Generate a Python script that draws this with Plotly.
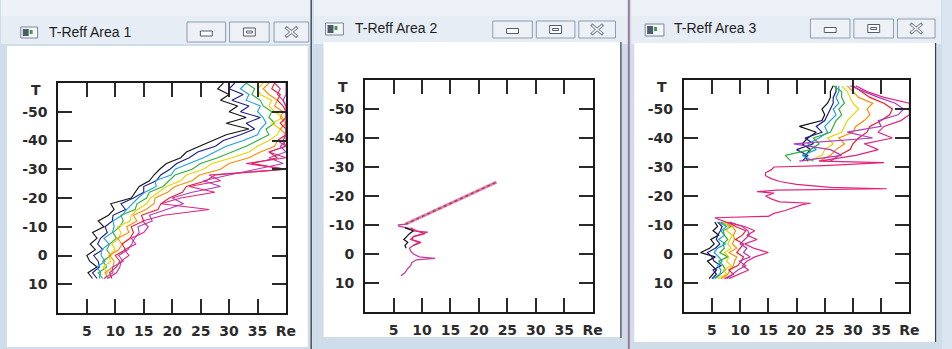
import plotly.graph_objects as go

W, H = 952, 349

# ---------------- data ----------------
window_titles = ["T-Reff Area 1", "T-Reff Area 2", "T-Reff Area 3"]
x_tick_vals = [5, 10, 15, 20, 25, 30, 35, 40]
x_tick_text = ["5", "10", "15", "20", "25", "30", "35", "Re"]
y_tick_vals = [-50, -40, -30, -20, -10, 0, 10]
y_tick_text = ["-50", "-40", "-30", "-20", "-10", "0", "10"]
y_axis_label = "T"
y_axis_label_pos = -57.5
x_grid_vals = [15, 25]
y_grid_vals = [-40, -10]

series_names = ["black", "navy", "sky", "green", "yellow", "orange", "red", "purple", "magenta"]
series_colors = ["#111111", "#1c1c8c", "#1f9fe0", "#2fae3a", "#e8d400",
                 "#ff8c00", "#ec1c24", "#a83cc0", "#e0247e"]

# ---- Area 1 : Re at each T level ----
a1_T = [8, 6, 4, 2, 0, -2, -4, -6, -8, -10, -12, -14, -16, -18, -20, -22, -24, -26,
        -28, -30, -32, -34, -36, -38, -40, -42, -44, -46, -48, -50, -52, -54, -56, -58, -60]
a1_black = [6.0, 5.2, 6.8, 5.5, 5.0, 6.5, 5.6, 6.8, 6.0, 8.0, 7.0, 8.8, 9.8, 9.2, 12.8, 13.5, 14.2, 16.0,
            16.8, 17.8, 19.0, 21.5, 22.5, 24.8, 27.0, 29.5, 33.5, 29.5, 33.0, 30.0, 31.5, 28.5, 30.0, 28.0, 29.0]
a1_navy = [6.8, 6.0, 7.2, 7.0, 6.2, 7.8, 6.9, 7.4, 8.6, 8.2, 9.5, 9.6, 11.8, 11.0, 13.2, 15.0, 15.0, 17.2,
           18.0, 19.6, 20.8, 23.0, 24.5, 27.6, 29.0, 32.0, 34.5, 33.0, 35.5, 32.0, 33.5, 30.5, 32.5, 30.0, 31.0]
a1_sky = [7.2, 7.4, 6.8, 8.2, 7.5, 7.6, 8.9, 8.0, 9.5, 9.8, 9.6, 11.2, 12.0, 13.0, 14.0, 15.2, 17.2, 17.0,
          19.8, 20.5, 23.0, 25.5, 27.5, 29.5, 32.5, 35.0, 35.5, 36.5, 36.0, 35.0, 35.5, 33.0, 33.5, 32.0, 33.0]
a1_green = [7.8, 7.0, 8.5, 7.8, 9.2, 8.5, 9.0, 10.2, 9.6, 10.8, 11.4, 11.0, 13.5, 13.8, 15.5, 16.0, 18.4, 19.5,
            20.5, 23.5, 25.0, 28.0, 30.5, 33.0, 35.0, 37.0, 36.5, 38.0, 37.0, 37.5, 36.0, 35.5, 34.0, 34.5, 33.0]
a1_yellow = [8.2, 8.6, 7.9, 9.2, 8.8, 10.0, 9.4, 10.6, 11.0, 10.4, 12.6, 12.8, 13.9, 15.5, 16.2, 17.5, 19.0, 21.5,
             22.5, 25.5, 27.0, 30.5, 33.5, 35.0, 37.0, 38.5, 39.0, 37.5, 39.5, 38.0, 37.0, 37.5, 35.5, 35.0, 36.0]
a1_orange = [8.8, 8.2, 9.6, 9.8, 9.0, 10.6, 11.2, 10.4, 12.4, 12.0, 13.8, 13.2, 15.4, 16.8, 17.0, 19.2, 20.5, 23.5,
             24.8, 28.5, 30.0, 33.5, 35.5, 38.0, 38.5, 40.0, 39.0, 40.0, 39.0, 39.5, 38.0, 38.5, 37.0, 36.0, 37.0]
a1_red = [9.4, 9.0, 10.2, 10.8, 10.0, 11.8, 11.2, 12.6, 13.2, 12.8, 15.0, 14.6, 17.5, 18.0, 19.5, 21.8, 22.5, 26.0,
          27.5, 40.0, 34.0, 38.5, 37.0, 40.0, 39.5, 40.0, 40.0, 39.0, 40.0, 40.0, 39.5, 38.5, 39.0, 37.5, 38.0]
a1_purple = [8.0, 9.6, 9.5, 11.4, 10.6, 12.2, 12.9, 13.4, 14.2, 14.0, 16.5, 16.0, 19.0, 22.0, 20.0, 23.5, 28.5, 25.5,
             30.0, 34.5, 39.5, 37.0, 40.0, 39.0, 40.0, 40.0, 40.0, 40.0, 40.0, 40.0, 40.0, 39.5, 40.0, 40.0, 40.0]
a1_magenta = [8.6, 10.2, 10.8, 11.0, 12.4, 11.6, 13.6, 12.8, 15.0, 15.8, 14.8, 18.5, 26.5, 18.0, 21.5, 27.5, 23.0, 28.5,
              26.5, 40.0, 33.0, 40.0, 37.0, 40.0, 38.5, 40.0, 40.0, 40.0, 40.0, 40.0, 40.0, 39.5, 38.5, 39.0, 38.0]

# ---- Area 2 ----
a2_magenta_T = [7.5, 6.5, 5, 4, 3, 2, 1.5, 1, 0, -1, -2, -3, -4, -5, -6, -7, -7.5, -8, -9, -9.5, -10, -10.3]
a2_magenta_Re = [6.3, 7.0, 7.5, 8.0, 8.2, 9.0, 12.3, 9.5, 8.5, 8.0, 7.8, 8.5, 9.5, 8.0, 8.5, 10.5, 11.0, 8.5,
                 7.5, 6.0, 5.8, 7.2]
a2_black_T = [-2, -3, -4, -5, -6, -7, -8, -9]
a2_black_Re = [7.2, 7.0, 7.5, 6.8, 7.3, 7.8, 8.5, 7.0]
a2_red_T = [-3, -4, -5, -6, -7, -8, -9]
a2_red_Re = [8.5, 9.8, 8.2, 8.5, 10.5, 9.0, 8.0]
a2_diag_T = [-10.3, -24.8]
a2_diag_Re = [7.1, 23.1]

# ---- Area 3 ----
a3_T_low = [8.5, 7, 5.5, 4, 2.5, 1, -0.5, -2, -3.5, -5, -6.5, -8, -9.5, -11]
a3_T_mid = [-12.5, -13, -14, -15, -16, -17, -17.5, -18, -19, -20, -21, -21.5, -22, -22.5, -23, -24,
            -25, -26, -27, -28, -29, -30, -30.5, -31.5]
a3_T_high = [-32, -34, -36, -38, -40, -42, -44, -46, -48, -50, -52, -54, -56, -58]

a3_low = {
    "black":   [4.5, 5.2, 5.8, 5.0, 4.2, 5.6, 3.0, 4.6, 5.4, 4.8, 6.2, 5.2, 6.0, 5.5],
    "navy":    [5.0, 5.8, 5.2, 6.6, 5.4, 5.0, 4.2, 5.6, 6.4, 5.8, 6.0, 6.5, 6.8, 6.0],
    "sky":     [5.2, 6.4, 6.6, 6.0, 6.8, 6.2, 5.4, 6.0, 7.4, 6.2, 7.2, 6.6, 7.6, 6.2],
    "green":   [5.6, 6.6, 7.4, 7.0, 6.2, 7.8, 6.4, 7.2, 7.0, 7.8, 7.2, 7.0, 8.4, 6.6],
    "yellow":  [6.0, 7.6, 7.0, 8.4, 7.6, 8.0, 7.2, 8.4, 7.8, 8.2, 8.6, 7.6, 8.0, 7.0],
    "orange":  [6.6, 7.8, 8.2, 8.8, 9.0, 9.4, 8.0, 9.4, 8.6, 9.0, 8.8, 9.2, 8.6, 7.4],
    "red":     [7.2, 8.8, 8.0, 9.6, 10.2, 10.6, 9.4, 10.0, 10.6, 9.2, 10.4, 11.0, 9.2, 7.8],
    "purple":  [7.6, 8.6, 9.6, 11.0, 9.8, 11.8, 10.6, 11.2, 10.0, 10.8, 11.6, 11.4, 10.4, 8.2],
    "magenta": [8.0, 9.8, 11.5, 10.4, 11.2, 12.6, 15.0, 12.4, 10.8, 13.0, 11.2, 12.6, 10.8, 7.5],
}
a3_mid_magenta = [5.5, 15.0, 16.0, 18.0, 19.5, 21.0, 22.5, 17.0, 15.5, 14.5, 16.0, 13.0, 16.5, 36.0, 26.0, 20.0,
                  17.0, 15.5, 14.5, 14.5, 15.5, 16.0, 25.0, 35.5]
a3_high = {
    "black":   [22.0, 21.5, 22.5, 21.0, 22.0, 23.5, 20.5, 24.5, 25.0, 24.5, 25.5, 26.0, 26.0, 26.5],
    "navy":    [21.0, 22.0, 20.0, 23.0, 21.5, 24.5, 23.5, 25.0, 25.5, 26.0, 26.5, 26.5, 27.0, 27.0],
    "sky":     [23.0, 21.0, 23.5, 22.0, 24.0, 25.5, 25.0, 26.0, 27.0, 26.5, 27.5, 27.0, 27.5, 27.5],
    "green":   [19.0, 18.0, 22.5, 24.0, 23.0, 26.0, 26.5, 27.0, 28.0, 27.5, 28.5, 28.0, 28.0, 26.5],
    "yellow":  [22.0, 24.5, 25.0, 26.5, 25.5, 28.0, 28.5, 29.0, 30.0, 31.0, 30.0, 29.5, 29.0, 28.0],
    "orange":  [24.0, 26.0, 27.0, 28.5, 27.5, 30.0, 30.5, 32.0, 33.0, 32.5, 33.5, 31.0, 30.0, 29.0],
    "red":     [26.0, 27.5, 29.5, 30.0, 31.0, 32.5, 33.0, 35.0, 36.5, 37.0, 35.5, 33.0, 31.5, 30.0],
    "purple":  [20.5, 28.0, 26.0, 19.5, 33.5, 29.0, 35.0, 34.5, 38.0, 39.0, 37.5, 34.5, 32.0, 29.5],
    "magenta": [24.0, 30.5, 34.5, 32.0, 37.0, 34.5, 35.5, 38.5, 40.0, 40.0, 40.0, 35.5, 32.5, 30.5],
}

# ---------------- figure ----------------
fig = go.Figure()
FONT_TICK = dict(family="DejaVu Sans", size=14, color="#2b2b2b", weight="bold")

panels_px = [(59, 289, 83, 313), (369, 599, 80, 312), (691, 919, 80, 312)]
color_of = dict(zip(series_names, series_colors))

def ax_names(i):
    return ("x" if i == 1 else f"x{i}"), ("y" if i == 1 else f"y{i}")

# Area 1 traces
a1_series = {"black": a1_black, "navy": a1_navy, "sky": a1_sky, "green": a1_green,
             "yellow": a1_yellow, "orange": a1_orange, "red": a1_red,
             "purple": a1_purple, "magenta": a1_magenta}
for name in series_names:
    fig.add_trace(go.Scatter(x=a1_series[name], y=a1_T, mode="lines", xaxis="x", yaxis="y",
                             line=dict(color=color_of[name], width=1.1),
                             showlegend=False, hoverinfo="skip"))

# Area 2 traces
fig.add_trace(go.Scatter(x=a2_diag_Re, y=a2_diag_T, mode="lines", xaxis="x2", yaxis="y2",
                         line=dict(color="#e87ab8", width=3), showlegend=False, hoverinfo="skip"))
fig.add_trace(go.Scatter(x=a2_diag_Re, y=a2_diag_T, mode="lines", xaxis="x2", yaxis="y2",
                         line=dict(color="#9a4a3a", width=1.5, dash="dot"), showlegend=False, hoverinfo="skip"))
fig.add_trace(go.Scatter(x=a2_magenta_Re, y=a2_magenta_T, mode="lines", xaxis="x2", yaxis="y2",
                         line=dict(color="#c2409a", width=1.3), showlegend=False, hoverinfo="skip"))
fig.add_trace(go.Scatter(x=a2_black_Re, y=a2_black_T, mode="lines", xaxis="x2", yaxis="y2",
                         line=dict(color="#111111", width=1.2), showlegend=False, hoverinfo="skip"))
fig.add_trace(go.Scatter(x=a2_red_Re, y=a2_red_T, mode="lines", xaxis="x2", yaxis="y2",
                         line=dict(color="#e8206a", width=1.3), showlegend=False, hoverinfo="skip"))

# Area 3 traces
for name in series_names:
    if name == "magenta":
        xs = a3_low[name] + a3_mid_magenta + a3_high[name]
        ys = a3_T_low + a3_T_mid + a3_T_high
    else:
        xs = a3_low[name] + [None] + a3_high[name]
        ys = a3_T_low + [None] + a3_T_high
    fig.add_trace(go.Scatter(x=xs, y=ys, mode="lines", xaxis="x3", yaxis="y3",
                             line=dict(color=color_of[name], width=1.2),
                             connectgaps=False, showlegend=False, hoverinfo="skip"))

# axes
layout_axes = {}
annotations = []
shapes = []
for i, (x0, x1, y0, y1) in enumerate(panels_px, start=1):
    xn, yn = ax_names(i)
    common = dict(ticks="inside", ticklen=14, tickwidth=2, tickcolor="#2a2a2a",
                  showline=True, linecolor="#1a1a1a", linewidth=2, mirror="ticks",
                  showgrid=False, zeroline=False, tickfont=FONT_TICK, fixedrange=True,
                  tickmode="array", tickangle=0)
    layout_axes["xaxis" if i == 1 else f"xaxis{i}"] = dict(
        common, domain=[x0 / W, x1 / W], range=[0, 40], tickvals=x_tick_vals,
        ticktext=x_tick_text, anchor=yn, ticklabelstandoff=4)
    layout_axes["yaxis" if i == 1 else f"yaxis{i}"] = dict(
        common, domain=[1 - y1 / H, 1 - y0 / H], range=[20, -60], tickvals=y_tick_vals,
        ticktext=y_tick_text, anchor=xn, ticklabelstandoff=6)
    annotations.append(dict(text=y_axis_label, xref=f"{xn} domain", yref=yn, x=0, y=y_axis_label_pos,
                            xanchor="right", yanchor="middle", xshift=-15, showarrow=False,
                            font=FONT_TICK))
    for gv in x_grid_vals:
        shapes.append(dict(type="line", xref=xn, yref=f"{yn} domain", x0=gv, x1=gv, y0=0, y1=1,
                           line=dict(color="#6e6e6e", width=1, dash="4px,4px"), layer="below"))
    for gv in y_grid_vals:
        shapes.append(dict(type="line", xref=f"{xn} domain", yref=yn, x0=0, x1=1, y0=gv, y1=gv,
                           line=dict(color="#6e6e6e", width=1, dash="4px,4px"), layer="below"))

# ---------------- window chrome (pixel helpers) ----------------
def px(x):
    return x / W

def py(y):
    return 1 - y / H

def rect(x0, y0, x1, y1, fill, line=None, lw=0, layer="above"):
    shapes.append(dict(type="rect", xref="paper", yref="paper", x0=px(x0), x1=px(x1),
                       y0=py(y1), y1=py(y0), fillcolor=fill,
                       line=dict(color=line if line else fill, width=lw), layer=layer))

def seg(x0, y0, x1, y1, color, lw, layer="above"):
    shapes.append(dict(type="line", xref="paper", yref="paper", x0=px(x0), x1=px(x1),
                       y0=py(y0), y1=py(y1), line=dict(color=color, width=lw), layer=layer))

windows = [
    dict(fx=(0, 315), content=(7, 46, 311, 347), title_x=47, title_y=32, icon=(21, 27, 38, 38),
         btns=[(189, 228), (232, 272), (277, 312)], by=(22, 42)),
    dict(fx=(316, 636), content=(327, 42, 627, 337), title_x=357, title_y=28, icon=(329, 23, 347, 35),
         btns=[(498, 538), (542, 581), (585, 622)], by=(21, 38)),
    dict(fx=(637, 952), content=(641, 43, 945, 342), title_x=679, title_y=28, icon=(652, 24, 671, 36),
         btns=[(819, 859), (863, 903), (907, 945)], by=(19, 38)),
]
for k, wd in enumerate(windows):
    fx0, fx1 = wd["fx"]
    rect(fx0, 0, fx1, H, "#cfdcea", layer="below")
    rect(fx0 + 1, 0, fx1 - 1, 16, "#edf2f8", layer="below")
    rect(fx0 + 1, 16, fx1 - 1, 44, "#e6edf5", layer="below")
    cx0, cy0, cx1, cy1 = wd["content"]
    rect(cx0, cy0, cx1, cy1, "#ffffff", layer="below")
    # icon
    ix0, iy0, ix1, iy1 = wd["icon"]
    rect(ix0, iy0, ix1, iy1, "#f4f6f8", line="#7a8696", lw=1)
    rect(ix0 + 2, iy0 + 2, ix0 + 8, iy1 - 2, "#4c5a6a")
    rect(ix0 + 9, iy0 + 3, ix0 + 12, iy0 + 7, "#3f9a55")
    # title
    annotations.append(dict(text=window_titles[k], xref="paper", yref="paper", x=px(wd["title_x"]),
                            y=py(wd["title_y"]), xanchor="left", yanchor="middle", showarrow=False,
                            font=dict(family="Liberation Sans", size=14, color="#1e1e1e")))
    # buttons
    by0, by1 = wd["by"]
    for j, (bx0, bx1) in enumerate(wd["btns"]):
        shapes.append(dict(type="rect", xref="paper", yref="paper", x0=px(bx0), x1=px(bx1),
                           y0=py(by1), y1=py(by0), fillcolor="#edf1f6",
                           line=dict(color="#8e9db0", width=1)))
        mx = (bx0 + bx1) / 2
        my = (by0 + by1) / 2
        if j == 0:
            rect(mx - 6, my - 1, mx + 6, my + 4, "#ffffff", line="#4f5d6d", lw=1)
        elif j == 1:
            rect(mx - 6, my - 4, mx + 6, my + 4, "#ffffff", line="#4f5d6d", lw=1)
            rect(mx - 3, my - 1, mx + 3, my + 1, "#ffffff", line="#4f5d6d", lw=1)
        else:
            seg(mx - 6, my - 5, mx + 6, my + 5, "#7a8696", 3.2)
            seg(mx - 6, my + 5, mx + 6, my - 5, "#7a8696", 3.2)
            seg(mx - 5, my - 4, mx + 5, my + 4, "#ffffff", 1.2)
            seg(mx - 5, my + 4, mx + 5, my - 4, "#ffffff", 1.2)

# window separators
seg(314.5, 0, 314.5, H, "#4a4f57", 1.5)
seg(627.5, 42, 627.5, 338, "#3a3f47", 1.2)
seg(635.5, 0, 635.5, H, "#9a7a94", 2)
seg(945.5, 43, 945.5, 342, "#3a3f47", 1.2)

fig.update_layout(width=W, height=H, margin=dict(l=0, r=0, t=0, b=0), autosize=False,
                  paper_bgcolor="#dbe5f0", plot_bgcolor="#ffffff",
                  shapes=shapes, annotations=annotations, **layout_axes)

fig.write_html("out.html", config={"displayModeBar": False})
